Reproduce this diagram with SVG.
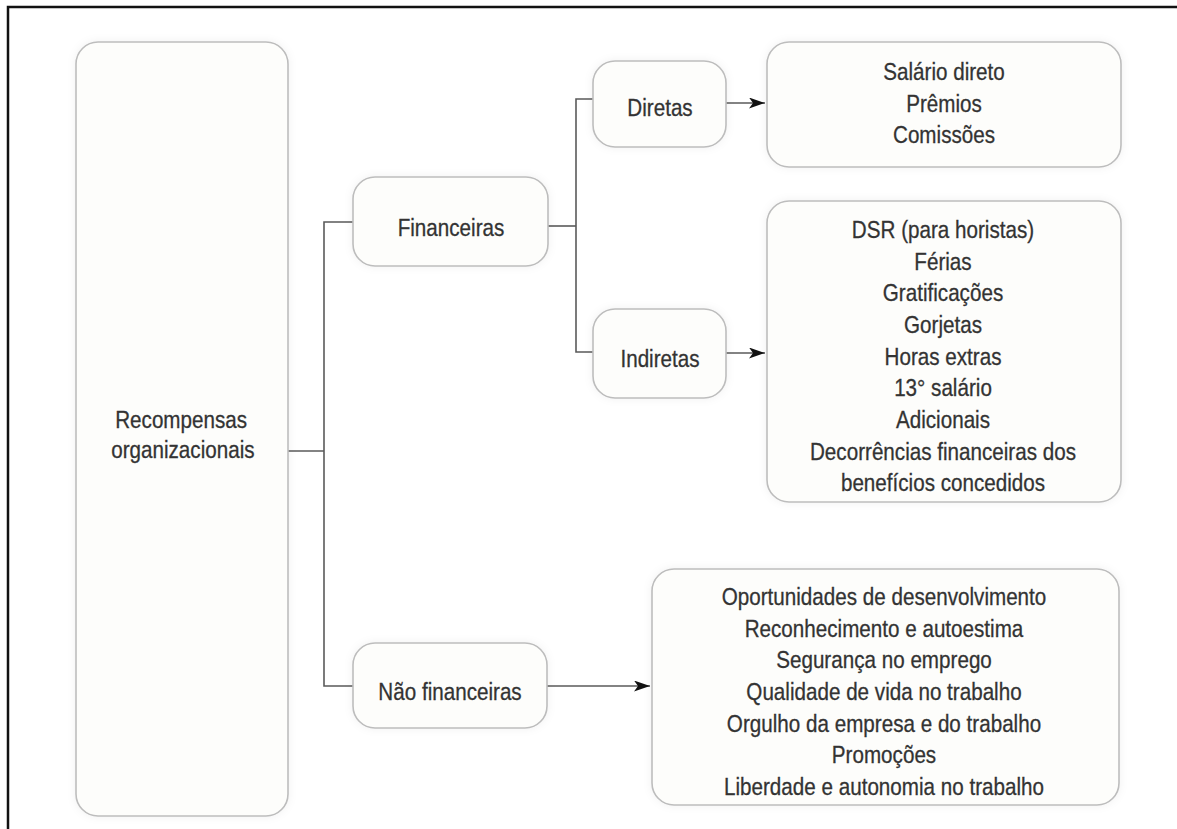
<svg xmlns="http://www.w3.org/2000/svg" width="1177" height="829" viewBox="0 0 1177 829">
  <defs>
    <marker id="arrow" markerUnits="userSpaceOnUse" markerWidth="18" markerHeight="12" refX="16" refY="5.5" orient="auto">
      <path d="M0,0 L16,5.5 L0,11 L4,5.5 Z" fill="#111"/>
    </marker>
    <filter id="soft" x="-10%" y="-10%" width="120%" height="120%">
      <feDropShadow dx="0" dy="0" stdDeviation="4" flood-color="#000" flood-opacity="0.06"/>
    </filter>
  </defs>
  <style>
    .box { fill: #fdfdfb; stroke: #bdbdbd; stroke-width: 1.6; filter: url(#soft); }
    .lbl { font-family: "Liberation Sans", Arial, sans-serif; font-size: 24px; fill: #333333; stroke: #333333; stroke-width: 0.3; text-anchor: middle; }
    .con { fill: none; stroke: #5a5a5a; stroke-width: 1.6; }
    .arr { fill: none; stroke: #5a5a5a; stroke-width: 1.6; marker-end: url(#arrow); }
  </style>
  <rect width="1177" height="829" fill="#ffffff"/>
  <rect x="8" y="7" width="1190" height="840" fill="none" stroke="#111" stroke-width="2.5"/>

  <g id="connectors">
    <path class="con" d="M288,451 H324"/>
    <path class="con" d="M353,222 H324 V686 H353"/>
    <path class="con" d="M548,226 H576"/>
    <path class="con" d="M593,99 H576 V352 H593"/>
    <path class="arr" d="M726,103 H765"/>
    <path class="arr" d="M726,353 H765"/>
    <path class="arr" d="M547,686 H650"/>
  </g>

  <g id="recompensas">
    <rect class="box" x="76" y="42" width="212" height="774" rx="22"/>
    <g transform="translate(182 0) scale(0.86 1)">
      <text class="lbl" x="-1" y="428">Recompensas</text>
      <text class="lbl" x="1" y="458">organizacionais</text>
    </g>
  </g>

  <g id="financeiras">
    <rect class="box" x="353" y="177" width="195" height="89" rx="22"/>
    <g transform="translate(451 0) scale(0.86 1)">
      <text class="lbl" x="0" y="236">Financeiras</text>
    </g>
  </g>

  <g id="nao-financeiras">
    <rect class="box" x="353" y="643" width="194" height="85" rx="22"/>
    <g transform="translate(450 0) scale(0.86 1)">
      <text class="lbl" x="0" y="700">Não financeiras</text>
    </g>
  </g>

  <g id="diretas">
    <rect class="box" x="593" y="61" width="133" height="86" rx="22"/>
    <g transform="translate(660 0) scale(0.86 1)">
      <text class="lbl" x="0" y="116">Diretas</text>
    </g>
  </g>

  <g id="indiretas">
    <rect class="box" x="593" y="309" width="133" height="89" rx="22"/>
    <g transform="translate(660 0) scale(0.86 1)">
      <text class="lbl" x="0" y="367">Indiretas</text>
    </g>
  </g>

  <g id="diretas-itens">
    <rect class="box" x="767" y="42" width="354" height="125" rx="22"/>
    <g transform="translate(944 0) scale(0.86 1)">
      <text class="lbl" x="0" y="80">Salário direto</text>
      <text class="lbl" x="0" y="112">Prêmios</text>
      <text class="lbl" x="0" y="143">Comissões</text>
    </g>
  </g>

  <g id="indiretas-itens">
    <rect class="box" x="767" y="201" width="354" height="301" rx="22"/>
    <g transform="translate(943 0) scale(0.86 1)">
      <text class="lbl" x="0" y="238">DSR (para horistas)</text>
      <text class="lbl" x="0" y="270">Férias</text>
      <text class="lbl" x="0" y="301">Gratificações</text>
      <text class="lbl" x="0" y="333">Gorjetas</text>
      <text class="lbl" x="0" y="365">Horas extras</text>
      <text class="lbl" x="0" y="396">13° salário</text>
      <text class="lbl" x="0" y="428">Adicionais</text>
      <text class="lbl" x="0" y="460">Decorrências financeiras dos</text>
      <text class="lbl" x="0" y="491">benefícios concedidos</text>
    </g>
  </g>

  <g id="nao-financeiras-itens">
    <rect class="box" x="652" y="569" width="467" height="236" rx="22"/>
    <g transform="translate(884 0) scale(0.86 1)">
      <text class="lbl" x="0" y="605">Oportunidades de desenvolvimento</text>
      <text class="lbl" x="0" y="637">Reconhecimento e autoestima</text>
      <text class="lbl" x="0" y="668">Segurança no emprego</text>
      <text class="lbl" x="0" y="700">Qualidade de vida no trabalho</text>
      <text class="lbl" x="0" y="732">Orgulho da empresa e do trabalho</text>
      <text class="lbl" x="0" y="763">Promoções</text>
      <text class="lbl" x="0" y="795">Liberdade e autonomia no trabalho</text>
    </g>
  </g>
</svg>
